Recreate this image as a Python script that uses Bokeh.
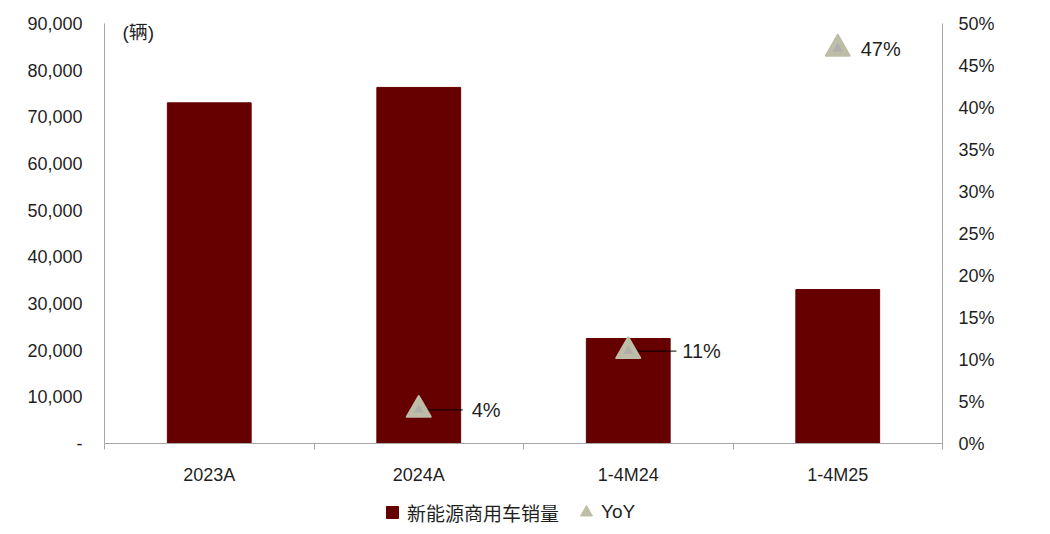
from bokeh.plotting import figure
from bokeh.layouts import column
from bokeh.models import (Range1d, LinearAxis, FixedTicker, NumeralTickFormatter,
                          Legend, LegendItem, Label, ColumnDataSource)
from bokeh.core.properties import value
from bokeh.embed import file_html
from bokeh.resources import INLINE

# ---- data ----
categories = ["2023A", "2024A", "1-4M24", "1-4M25"]
sales = [73000, 76300, 22500, 33000]          # 新能源商用车销量 (辆)
yoy = [None, 0.04, 0.11, 0.47]                # YoY
yoy_labels = ["", "4%", "11%", "47%"]
left_ticks = [0, 10000, 20000, 30000, 40000, 50000, 60000, 70000, 80000, 90000]
right_ticks = [0.0, 0.05, 0.10, 0.15, 0.20, 0.25, 0.30, 0.35, 0.40, 0.45, 0.50]
series_names = ["新能源商用车销量", "YoY"]

# ---- styles ----
FONT = "'Liberation Sans', Arial, sans-serif"
CJK = "'Liberation Sans', 'Noto Sans CJK SC', sans-serif"
TXT = "#1f1f1f"
AXIS = "#a6a6a6"
BAR = "#660000"
TRI = "#bdbda8"
TRI_IN = "#a9a9ad"

n = len(categories)
xs = [i + 0.5 for i in range(n)]

p = figure(frame_width=838, frame_height=420,
           min_border_left=104, min_border_right=100,
           min_border_top=23, min_border_bottom=50,
           x_range=Range1d(0, n), y_range=Range1d(0, left_ticks[-1]),
           output_backend="svg", toolbar_location=None)
p.outline_line_color = None
p.grid.visible = False
p.background_fill_color = "white"
p.border_fill_color = "white"

# x axis: labels at category centres, tick marks at category boundaries
xa = p.xaxis[0]
xa.ticker = FixedTicker(ticks=xs, minor_ticks=list(range(n + 1)))
xa.major_label_overrides = {x: c for x, c in zip(xs, categories)}
xa.major_tick_out = 0
xa.major_tick_in = 0
xa.minor_tick_out = 6
xa.minor_tick_in = 0
xa.minor_tick_line_color = AXIS
xa.axis_line_color = AXIS
xa.major_label_standoff = 15
xa.major_label_text_font = FONT
xa.major_label_text_font_size = "18px"
xa.major_label_text_color = TXT

# left axis
ya = p.yaxis[0]
ya.ticker = FixedTicker(ticks=left_ticks)
ya.formatter = NumeralTickFormatter(format="0,0")
ya.major_label_overrides = {0: "-"}
ya.major_tick_out = 0
ya.major_tick_in = 0
ya.minor_tick_out = 0
ya.minor_tick_in = 0
ya.axis_line_color = AXIS
ya.major_label_standoff = 22
ya.major_label_text_font = FONT
ya.major_label_text_font_size = "18px"
ya.major_label_text_color = TXT

# right axis
p.extra_y_ranges = {"yoy": Range1d(0, right_ticks[-1])}
ra = LinearAxis(y_range_name="yoy", ticker=FixedTicker(ticks=right_ticks),
                formatter=NumeralTickFormatter(format="0%"))
ra.major_tick_out = 0
ra.major_tick_in = 0
ra.minor_tick_out = 0
ra.minor_tick_in = 0
ra.axis_line_color = AXIS
ra.major_label_standoff = 16
ra.major_label_text_font = FONT
ra.major_label_text_font_size = "18px"
ra.major_label_text_color = TXT
p.add_layout(ra, "right")

# bars
bars = p.vbar(x=xs, top=sales, width=0.4, fill_color=BAR, line_color=BAR)

# YoY points
idx = [i for i, v in enumerate(yoy) if v is not None]
leader = {1: 0.21, 2: 0.23}
offsets = {1: 53, 2: 54, 3: 23}
src = ColumnDataSource(dict(
    x=[xs[i] for i in idx],
    y=[yoy[i] for i in idx],
    x1=[xs[i] + leader.get(i, 0) for i in idx],
    lab=[yoy_labels[i] for i in idx],
    off=[offsets[i] for i in idx],
))
p.segment(x0="x", y0="y", x1="x1", y1="y", source=src, line_color="black",
          line_width=1, y_range_name="yoy")
tri = p.scatter(x="x", y="y", source=src, marker="triangle", size=24,
                fill_color=TRI, line_color=TRI, line_width=2, line_join="round",
                y_range_name="yoy")
p.scatter(x="x", y="y", source=src, marker="triangle", size=10,
          fill_color=TRI_IN, line_color=None, fill_alpha=0.7, y_range_name="yoy")
p.text(x="x", y="y", text="lab", source=src, x_offset="off", y_range_name="yoy",
       text_align="left", text_baseline="middle", text_font=value(FONT),
       text_font_size="20px", text_color=TXT)

# unit label
p.add_layout(Label(x=18, y=411, x_units="screen", y_units="screen", text="(辆)",
                   text_font=CJK, text_font_size="19px", text_color=TXT,
                   text_baseline="middle", text_align="left"))

# ---- legend strip (separate small figure below the chart) ----
lf = figure(frame_width=1042, frame_height=35, min_border=0,
            x_range=Range1d(0, 1), y_range=Range1d(0, 1),
            x_axis_type=None, y_axis_type=None,
            output_backend="svg", toolbar_location=None)
lf.outline_line_color = None
lf.grid.visible = False
lf.background_fill_color = "white"
lf.border_fill_color = "white"

# legend-only proxy renderers (one NaN row each, so nothing is plotted)
nan = float("nan")
sq_proxy = lf.scatter(x=[nan], y=[nan], marker="square", fill_color=BAR, line_color=BAR)
tri_proxy = lf.scatter(x=[nan], y=[nan], marker="triangle", fill_color=TRI,
                       line_color=TRI, line_join="round")
lg = Legend(items=[LegendItem(label=series_names[0], renderers=[sq_proxy]),
                   LegendItem(label=series_names[1], renderers=[tri_proxy])],
            location=(377, 1), orientation="horizontal",
            glyph_width=30, glyph_height=30, label_standoff=0, label_height=24,
            spacing=12, padding=0, margin=0,
            label_text_font=CJK, label_text_font_size="19px", label_text_color=TXT,
            background_fill_alpha=0, border_line_color=None)
lf.add_layout(lg, "center")

layout = column(p, lf, spacing=0)
open("out.html", "w").write(file_html(layout, INLINE))
